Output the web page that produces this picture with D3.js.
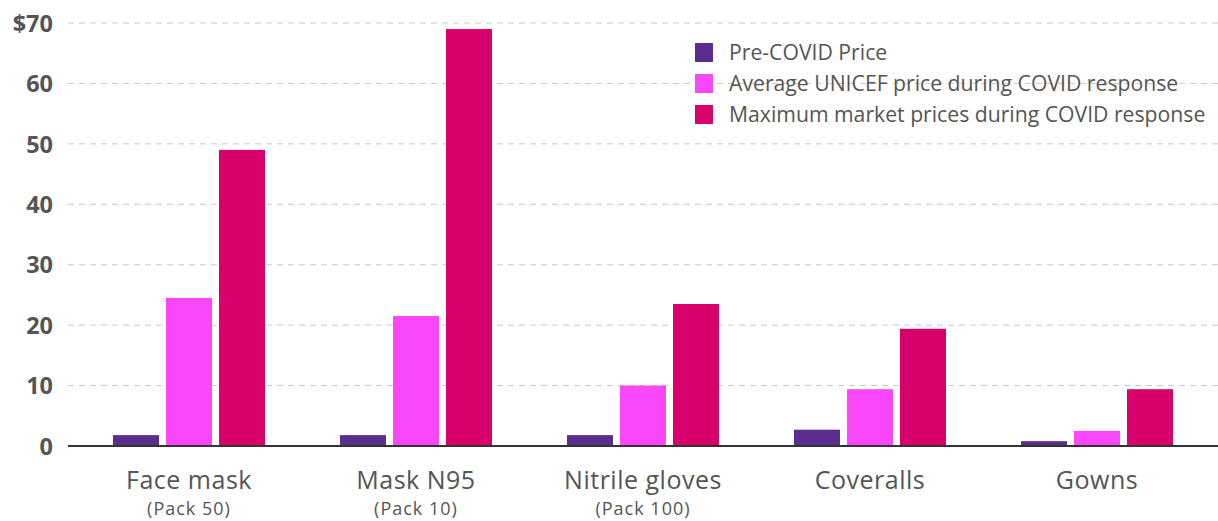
<!DOCTYPE html>
<html><head><meta charset="utf-8">
<script src="https://cdn.jsdelivr.net/npm/d3@7"></script>
<style>body{margin:0;background:#fff}svg{display:block}text{font-family:"Open Sans","Noto Sans",sans-serif}</style>
</head><body><svg id="c" width="1218" height="521"></svg>
<script>
const categories = ["Face mask","Mask N95","Nitrile gloves","Coveralls","Gowns"];
const subLabels = ["(Pack 50)","(Pack 10)","(Pack 100)","",""];
const seriesNames = ["Pre-COVID Price","Average UNICEF price during COVID response","Maximum market prices during COVID response"];
const preCovid = [1.8, 1.8, 1.8, 2.7, 0.8];
const unicefAvg = [24.5, 21.5, 10.0, 9.4, 2.5];
const marketMax = [49.0, 69.0, 23.5, 19.4, 9.4];
const yTicks = [0,10,20,30,40,50,60,70];
const colors = ["#5b2d8e","#f947f9","#d8006b"];

const series = [preCovid, unicefAvg, marketMax];
const svg = d3.select("#c");
const y = d3.scaleLinear().domain([0,70]).range([446,23]);
const x0 = d3.scaleBand().domain(categories).range([75.5,1210.5]).paddingInner(75/227).paddingOuter(75/454);
const x1 = d3.scaleBand().domain(d3.range(3)).range([0,x0.bandwidth()]).paddingInner(7/53);

const yAxis = d3.axisLeft(y).tickValues(yTicks).tickSize(0).tickPadding(0)
  .tickFormat(d => d===70 ? "$70" : d);
const ga = svg.append("g").attr("transform","translate(53,0)").call(yAxis);
ga.select(".domain").remove();
ga.selectAll("text").attr("font-size",23.5).attr("font-weight","bold").attr("fill","#555").attr("dy","0.35em")
  .style("font-family","'Open Sans',sans-serif");

svg.append("g").selectAll("line").data(yTicks.filter(d=>d>0)).join("line")
  .attr("x1",68).attr("x2",1218).attr("y1",d=>y(d)).attr("y2",d=>y(d))
  .attr("stroke","#c8c8c8").attr("stroke-width",1).attr("stroke-dasharray","6,5");

const groups = svg.append("g").selectAll("g").data(categories).join("g")
  .attr("transform",d=>`translate(${x0(d)},0)`);
groups.selectAll("rect").data((d,i)=>series.map((s,k)=>({k,v:s[i]}))).join("rect")
  .attr("x",d=>x1(d.k)).attr("width",x1.bandwidth())
  .attr("y",d=>y(d.v)).attr("height",d=>y(0)-y(d.v))
  .attr("fill",d=>colors[d.k]);

svg.append("line").attr("x1",68).attr("x2",1218).attr("y1",y(0)).attr("y2",y(0))
  .attr("stroke","#333").attr("stroke-width",2);

const xa = svg.append("g");
categories.forEach((c,i)=>{
  const cx = x0(c)+x0.bandwidth()/2;
  xa.append("text").attr("x",cx).attr("y",489).attr("text-anchor","middle")
    .attr("font-size",25).attr("letter-spacing","0.5px").attr("fill","#555").text(c);
  if (subLabels[i]) xa.append("text").attr("x",cx).attr("y",515).attr("text-anchor","middle")
    .attr("font-size",18).attr("letter-spacing","1px").attr("fill","#555").text(subLabels[i]);
});

const lg = svg.append("g").attr("transform","translate(695,43)");
seriesNames.forEach((n,i)=>{
  lg.append("rect").attr("x",0).attr("y",i*31).attr("width",18).attr("height",19).attr("fill",colors[i]);
  lg.append("text").attr("x",34).attr("y",i*31+9.5).attr("dy","0.35em")
    .attr("font-size",21.2).attr("fill","#555").text(n);
});
</script></body></html>
